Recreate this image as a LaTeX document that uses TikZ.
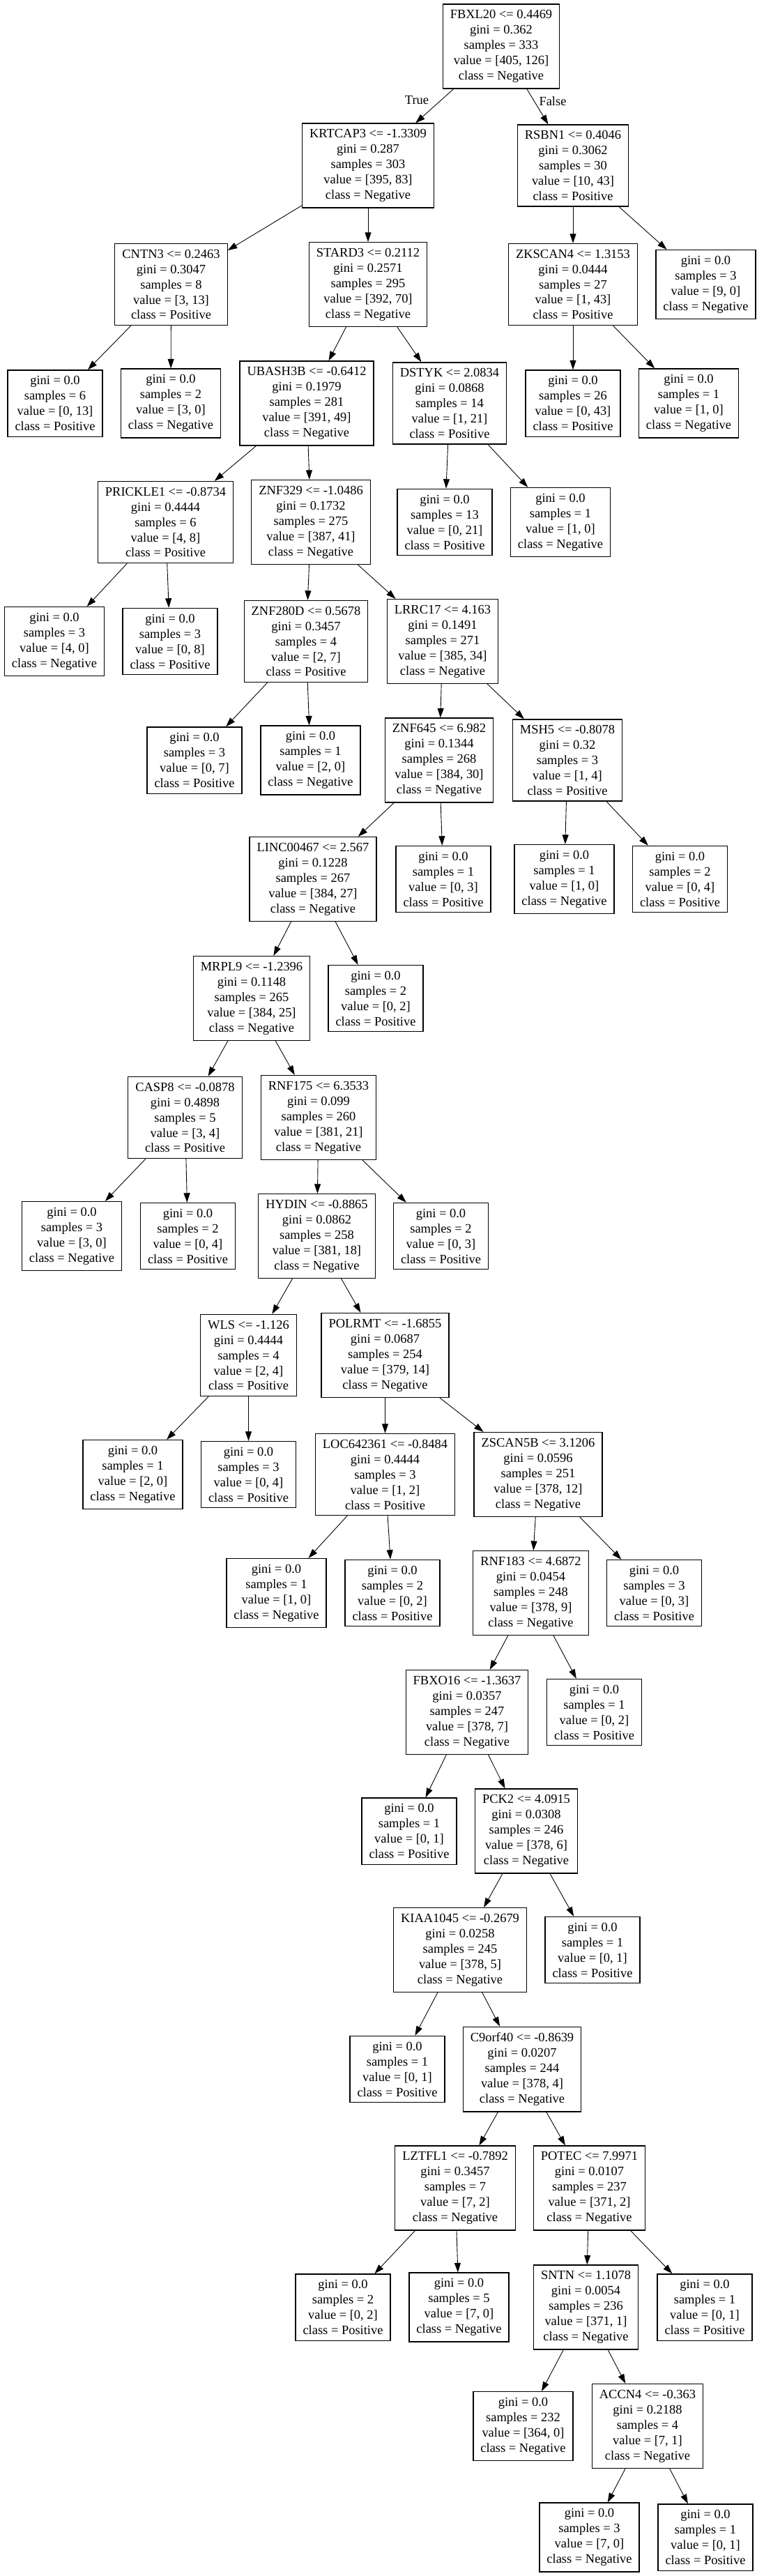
\documentclass[tikz,border=0pt]{standalone}
\usepackage{fontspec}
\setmainfont{Liberation Serif}
\usetikzlibrary{arrows.meta}

\begin{document}
\begin{tikzpicture}[
      sp/.style={draw, line width=0.7pt, align=center, inner xsep=6pt, inner ysep=4.8pt, font=\fontsize{10.5}{12.5}\selectfont},
      lv/.style={sp},
      arr/.style={-{Triangle[length=0.27cm,width=0.18cm]}, line width=0.5pt},
      tf/.style={font=\fontsize{10.5}{12.5}\selectfont}]
      \useasboundingbox (0,0) rectangle (21.7,-73.9);
      \node[sp] (fbxl) at (14.38,-1.33) {FBXL20 <= 0.4469\\gini = 0.362\\samples = 333\\value = [405, 126]\\class = Negative};
      \node[sp] (krtcap) at (10.56,-4.75) {KRTCAP3 <= -1.3309\\gini = 0.287\\samples = 303\\value = [395, 83]\\class = Negative};
      \node[sp] (rsbn) at (16.44,-4.75) {RSBN1 <= 0.4046\\gini = 0.3062\\samples = 30\\value = [10, 43]\\class = Positive};
      \node[tf] (tl) at (11.96,-2.88) {True}; \node[tf] (fl) at (15.86,-2.90) {False};
      \node[sp] (cntn) at (4.91,-8.16) {CNTN3 <= 0.2463\\gini = 0.3047\\samples = 8\\value = [3, 13]\\class = Positive};
      \node[sp] (stard) at (10.56,-8.16) {STARD3 <= 0.2112\\gini = 0.2571\\samples = 295\\value = [392, 70]\\class = Negative};
      \node[sp] (zkscan) at (16.44,-8.16) {ZKSCAN4 <= 1.3153\\gini = 0.0444\\samples = 27\\value = [1, 43]\\class = Positive};
      \node[lv] (rsbn2) at (20.25,-8.16) {gini = 0.0\\samples = 3\\value = [9, 0]\\class = Negative};
      \node[lv] (cntn1) at (1.58,-11.57) {gini = 0.0\\samples = 6\\value = [0, 13]\\class = Positive};
      \node[lv] (cntn2) at (4.90,-11.57) {gini = 0.0\\samples = 2\\value = [3, 0]\\class = Negative};
      \node[sp] (ubash) at (8.80,-11.57) {UBASH3B <= -0.6412\\gini = 0.1979\\samples = 281\\value = [391, 49]\\class = Negative};
      \node[sp] (dstyk) at (12.90,-11.57) {DSTYK <= 2.0834\\gini = 0.0868\\samples = 14\\value = [1, 21]\\class = Positive};
      \node[lv] (zkscan1) at (16.44,-11.57) {gini = 0.0\\samples = 26\\value = [0, 43]\\class = Positive};
      \node[lv] (zkscan2) at (19.76,-11.57) {gini = 0.0\\samples = 1\\value = [1, 0]\\class = Negative};
      \node[sp] (prickle) at (4.75,-14.98) {PRICKLE1 <= -0.8734\\gini = 0.4444\\samples = 6\\value = [4, 8]\\class = Positive};
      \node[sp] (znfa) at (8.92,-14.98) {ZNF329 <= -1.0486\\gini = 0.1732\\samples = 275\\value = [387, 41]\\class = Negative};
      \node[lv] (dstyk1) at (12.76,-14.98) {gini = 0.0\\samples = 13\\value = [0, 21]\\class = Positive};
      \node[lv] (dstyk2) at (16.08,-14.98) {gini = 0.0\\samples = 1\\value = [1, 0]\\class = Negative};
      \node[lv] (prickle1) at (1.56,-18.40) {gini = 0.0\\samples = 3\\value = [4, 0]\\class = Negative};
      \node[lv] (prickle2) at (4.88,-18.40) {gini = 0.0\\samples = 3\\value = [0, 8]\\class = Positive};
      \node[sp] (znfb) at (8.78,-18.40) {ZNF280D <= 0.5678\\gini = 0.3457\\samples = 4\\value = [2, 7]\\class = Positive};
      \node[sp] (lrrc) at (12.70,-18.40) {LRRC17 <= 4.163\\gini = 0.1491\\samples = 271\\value = [385, 34]\\class = Negative};
      \node[lv] (znfb1) at (5.58,-21.81) {gini = 0.0\\samples = 3\\value = [0, 7]\\class = Positive};
      \node[lv] (znfb2) at (8.91,-21.81) {gini = 0.0\\samples = 1\\value = [2, 0]\\class = Negative};
      \node[sp] (znfc) at (12.60,-21.81) {ZNF645 <= 6.982\\gini = 0.1344\\samples = 268\\value = [384, 30]\\class = Negative};
      \node[sp] (msh) at (16.28,-21.81) {MSH5 <= -0.8078\\gini = 0.32\\samples = 3\\value = [1, 4]\\class = Positive};
      \node[sp] (linc) at (8.98,-25.22) {LINC00467 <= 2.567\\gini = 0.1228\\samples = 267\\value = [384, 27]\\class = Negative};
      \node[lv] (znfc2) at (12.72,-25.22) {gini = 0.0\\samples = 1\\value = [0, 3]\\class = Positive};
      \node[lv] (msh1) at (16.19,-25.22) {gini = 0.0\\samples = 1\\value = [1, 0]\\class = Negative};
      \node[lv] (msh2) at (19.51,-25.22) {gini = 0.0\\samples = 2\\value = [0, 4]\\class = Positive};
      \node[sp] (mrpl) at (7.22,-28.64) {MRPL9 <= -1.2396\\gini = 0.1148\\samples = 265\\value = [384, 25]\\class = Negative};
      \node[lv] (linc2) at (10.78,-28.64) {gini = 0.0\\samples = 2\\value = [0, 2]\\class = Positive};
      \node[sp] (casp) at (5.31,-32.06) {CASP8 <= -0.0878\\gini = 0.4898\\samples = 5\\value = [3, 4]\\class = Positive};
      \node[sp] (rnfa) at (9.14,-32.06) {RNF175 <= 6.3533\\gini = 0.099\\samples = 260\\value = [381, 21]\\class = Negative};
      \node[lv] (casp1) at (2.06,-35.46) {gini = 0.0\\samples = 3\\value = [3, 0]\\class = Negative};
      \node[lv] (casp2) at (5.39,-35.46) {gini = 0.0\\samples = 2\\value = [0, 4]\\class = Positive};
      \node[sp] (hydin) at (9.09,-35.46) {HYDIN <= -0.8865\\gini = 0.0862\\samples = 258\\value = [381, 18]\\class = Negative};
      \node[lv] (rnfa2) at (12.65,-35.46) {gini = 0.0\\samples = 2\\value = [0, 3]\\class = Positive};
      \node[sp] (wls) at (7.13,-38.88) {WLS <= -1.126\\gini = 0.4444\\samples = 4\\value = [2, 4]\\class = Positive};
      \node[sp] (polrmt) at (11.05,-38.88) {POLRMT <= -1.6855\\gini = 0.0687\\samples = 254\\value = [379, 14]\\class = Negative};
      \node[lv] (wls1) at (3.81,-42.30) {gini = 0.0\\samples = 1\\value = [2, 0]\\class = Negative};
      \node[lv] (wls2) at (7.13,-42.30) {gini = 0.0\\samples = 3\\value = [0, 4]\\class = Positive};
      \node[sp] (loc) at (11.05,-42.30) {LOC642361 <= -0.8484\\gini = 0.4444\\samples = 3\\value = [1, 2]\\class = Positive};
      \node[sp] (zscan) at (15.44,-42.30) {ZSCAN5B <= 3.1206\\gini = 0.0596\\samples = 251\\value = [378, 12]\\class = Negative};
      \node[lv] (loc1) at (7.93,-45.70) {gini = 0.0\\samples = 1\\value = [1, 0]\\class = Negative};
      \node[lv] (loc2) at (11.26,-45.70) {gini = 0.0\\samples = 2\\value = [0, 2]\\class = Positive};
      \node[sp] (rnfb) at (15.23,-45.70) {RNF183 <= 4.6872\\gini = 0.0454\\samples = 248\\value = [378, 9]\\class = Negative};
      \node[lv] (zscan2) at (18.77,-45.70) {gini = 0.0\\samples = 3\\value = [0, 3]\\class = Positive};
      \node[sp] (fbxo) at (13.40,-49.12) {FBXO16 <= -1.3637\\gini = 0.0357\\samples = 247\\value = [378, 7]\\class = Negative};
      \node[lv] (rnfb2) at (17.05,-49.12) {gini = 0.0\\samples = 1\\value = [0, 2]\\class = Positive};
      \node[lv] (fbxo1) at (11.74,-52.53) {gini = 0.0\\samples = 1\\value = [0, 1]\\class = Positive};
      \node[sp] (pck) at (15.10,-52.53) {PCK2 <= 4.0915\\gini = 0.0308\\samples = 246\\value = [378, 6]\\class = Negative};
      \node[sp] (kiaa) at (13.20,-55.94) {KIAA1045 <= -0.2679\\gini = 0.0258\\samples = 245\\value = [378, 5]\\class = Negative};
      \node[lv] (pck2) at (17.00,-55.94) {gini = 0.0\\samples = 1\\value = [0, 1]\\class = Positive};
      \node[lv] (kiaa1) at (11.40,-59.36) {gini = 0.0\\samples = 1\\value = [0, 1]\\class = Positive};
      \node[sp] (cnine) at (14.98,-59.36) {C9orf40 <= -0.8639\\gini = 0.0207\\samples = 244\\value = [378, 4]\\class = Negative};
      \node[sp] (lztfl) at (13.06,-62.77) {LZTFL1 <= -0.7892\\gini = 0.3457\\samples = 7\\value = [7, 2]\\class = Negative};
      \node[sp] (potec) at (16.91,-62.77) {POTEC <= 7.9971\\gini = 0.0107\\samples = 237\\value = [371, 2]\\class = Negative};
      \node[lv] (lztfl1) at (9.84,-66.19) {gini = 0.0\\samples = 2\\value = [0, 2]\\class = Positive};
      \node[lv] (lztfl2) at (13.17,-66.19) {gini = 0.0\\samples = 5\\value = [7, 0]\\class = Negative};
      \node[sp] (sntn) at (16.81,-66.19) {SNTN <= 1.1078\\gini = 0.0054\\samples = 236\\value = [371, 1]\\class = Negative};
      \node[lv] (potec2) at (20.22,-66.19) {gini = 0.0\\samples = 1\\value = [0, 1]\\class = Positive};
      \node[lv] (sntn1) at (15.01,-69.60) {gini = 0.0\\samples = 232\\value = [364, 0]\\class = Negative};
      \node[sp] (accn) at (18.58,-69.60) {ACCN4 <= -0.363\\gini = 0.2188\\samples = 4\\value = [7, 1]\\class = Negative};
      \node[lv] (accn1) at (16.91,-72.79) {gini = 0.0\\samples = 3\\value = [7, 0]\\class = Negative};
      \node[lv] (accn2) at (20.24,-72.79) {gini = 0.0\\samples = 1\\value = [0, 1]\\class = Positive};
      \draw[arr](fbxl)--(krtcap);\draw[arr](fbxl)--(rsbn);
      \draw[arr](krtcap)--(cntn);\draw[arr](krtcap)--(stard);
      \draw[arr](rsbn)--(zkscan);\draw[arr](rsbn)--(rsbn2);
      \draw[arr](cntn)--(cntn1);\draw[arr](cntn)--(cntn2);
      \draw[arr](stard)--(ubash);\draw[arr](stard)--(dstyk);
      \draw[arr](zkscan)--(zkscan1);\draw[arr](zkscan)--(zkscan2);
      \draw[arr](ubash)--(prickle);\draw[arr](ubash)--(znfa);
      \draw[arr](dstyk)--(dstyk1);\draw[arr](dstyk)--(dstyk2);
      \draw[arr](prickle)--(prickle1);\draw[arr](prickle)--(prickle2);
      \draw[arr](znfa)--(znfb);\draw[arr](znfa)--(lrrc);
      \draw[arr](znfb)--(znfb1);\draw[arr](znfb)--(znfb2);
      \draw[arr](lrrc)--(znfc);\draw[arr](lrrc)--(msh);
      \draw[arr](znfc)--(linc);\draw[arr](znfc)--(znfc2);
      \draw[arr](msh)--(msh1);\draw[arr](msh)--(msh2);
      \draw[arr](linc)--(mrpl);\draw[arr](linc)--(linc2);
      \draw[arr](mrpl)--(casp);\draw[arr](mrpl)--(rnfa);
      \draw[arr](casp)--(casp1);\draw[arr](casp)--(casp2);
      \draw[arr](rnfa)--(hydin);\draw[arr](rnfa)--(rnfa2);
      \draw[arr](hydin)--(wls);\draw[arr](hydin)--(polrmt);
      \draw[arr](wls)--(wls1);\draw[arr](wls)--(wls2);
      \draw[arr](polrmt)--(loc);\draw[arr](polrmt)--(zscan);
      \draw[arr](loc)--(loc1);\draw[arr](loc)--(loc2);
      \draw[arr](zscan)--(rnfb);\draw[arr](zscan)--(zscan2);
      \draw[arr](rnfb)--(fbxo);\draw[arr](rnfb)--(rnfb2);
      \draw[arr](fbxo)--(fbxo1);\draw[arr](fbxo)--(pck);
      \draw[arr](pck)--(kiaa);\draw[arr](pck)--(pck2);
      \draw[arr](kiaa)--(kiaa1);\draw[arr](kiaa)--(cnine);
      \draw[arr](cnine)--(lztfl);\draw[arr](cnine)--(potec);
      \draw[arr](lztfl)--(lztfl1);\draw[arr](lztfl)--(lztfl2);
      \draw[arr](potec)--(sntn);\draw[arr](potec)--(potec2);
      \draw[arr](sntn)--(sntn1);\draw[arr](sntn)--(accn);
      \draw[arr](accn)--(accn1);\draw[arr](accn)--(accn2);
    \end{tikzpicture}
\end{document}
